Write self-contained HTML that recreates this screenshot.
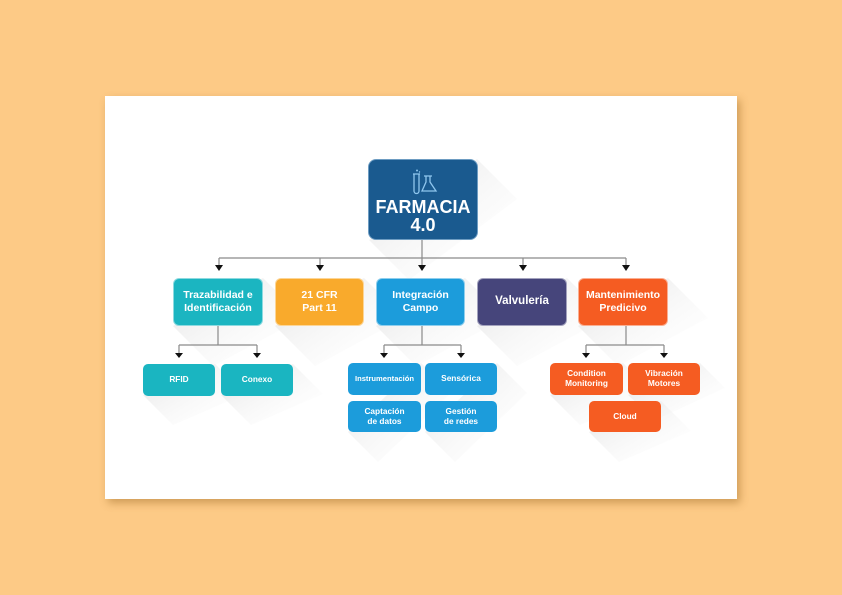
<!DOCTYPE html>
<html><head><meta charset="utf-8"><style>
html,body{margin:0;padding:0}
body{width:842px;height:595px;background:#fdca86;position:relative;overflow:hidden;font-family:"Liberation Sans",sans-serif}
.card{position:absolute;left:105px;top:96px;width:632px;height:403px;background:#fff;box-shadow:3px 4px 8px rgba(150,100,30,.45)}
.b{position:absolute;color:#fff;font-weight:bold;display:flex;align-items:center;justify-content:center;text-align:center;border-radius:6px;box-sizing:border-box;line-height:1.2}
.l2{top:278px;height:48px;width:90px;font-size:10.5px;border:1px solid rgba(255,255,255,.5)}
.l3{height:32px;width:73px;font-size:8.3px;border-radius:5px}
svg{position:absolute;left:0;top:0}
</style></head><body>
<div class="card"></div>
<svg width="842" height="595">
<defs><linearGradient id="g" x1="0" y1="0" x2="1" y2="1"><stop offset="0" stop-color="#e2e2e2"/><stop offset="1" stop-color="#fff" stop-opacity="0"/></linearGradient></defs>
<g fill="url(#g)">
<polygon points="369,240 477,159 517,199 409,280"/>
<polygon points="173,326 263,278 303,318 213,366"/>
<polygon points="275,326 364,278 404,318 315,366"/>
<polygon points="376,326 465,278 505,318 416,366"/>
<polygon points="477,326 567,278 607,318 517,366"/>
<polygon points="578,326 668,278 708,318 618,366"/>
<polygon points="143,395 215,364 245,394 173,425"/>
<polygon points="221,395 293,364 323,394 251,425"/>
<polygon points="348,432 421,363 451,393 378,462"/>
<polygon points="425,432 497,363 527,393 455,462"/>
<polygon points="550,395 623,363 653,393 580,425"/>
<polygon points="628,395 700,363 725,388 655,420"/>
<polygon points="589,432 661,401 691,431 619,462"/>
</g>
<g stroke="#8a8a8a" stroke-width="1.2" fill="none">
<path d="M422,240V258M219,258H626M219,258V266M320,258V266M422,258V266M523,258V266M626,258V266"/>
<path d="M218,326V345M179,345H257M179,345V353M257,345V353"/>
<path d="M422,326V345M384,345H461M384,345V353M461,345V353"/>
<path d="M626,326V345M586,345H664M586,345V353M664,345V353"/>
</g>
<g fill="#111">
<polygon points="215,265 223,265 219,271"/><polygon points="316,265 324,265 320,271"/><polygon points="418,265 426,265 422,271"/><polygon points="519,265 527,265 523,271"/><polygon points="622,265 630,265 626,271"/>
<polygon points="175,353 183,353 179,358"/><polygon points="253,353 261,353 257,358"/>
<polygon points="380,353 388,353 384,358"/><polygon points="457,353 465,353 461,358"/>
<polygon points="582,353 590,353 586,358"/><polygon points="660,353 668,353 664,358"/>
</g>
</svg>
<div class="b" style="left:368px;top:159px;width:110px;height:81px;background:#1a5a8f;border:1px solid #6d9cc2;border-radius:8px;flex-direction:column;font-size:18px;line-height:1.0;padding-top:4px">
<svg width="30" height="26" viewBox="0 0 30 26" style="position:static;margin-bottom:3px"><g stroke="#8fc6ee" stroke-width="1.3" fill="none"><path d="M6,5V22a2.5,2.5 0 0 0 5,0V5M5,5H12M16,7H24M18,7V13L14,22H28L22,13V7"/></g><circle cx="9" cy="1.5" r="1" fill="#8fc6ee"/><circle cx="11.5" cy="3" r=".7" fill="#8fc6ee"/></svg>
<div>FARMACIA<br>4.0</div></div>
<div class="b l2" style="left:173px;width:90px;background:#1bb5c1">Trazabilidad e<br>Identificación</div>
<div class="b l2" style="left:275px;width:89px;background:#f9aa2c">21 CFR<br>Part 11</div>
<div class="b l2" style="left:376px;width:89px;background:#1c9cdb">Integración<br>Campo</div>
<div class="b l2" style="left:477px;width:90px;background:#46457b;font-size:11.5px">Valvulería</div>
<div class="b l2" style="left:578px;width:90px;background:#f55c22">Mantenimiento<br>Predicivo</div>
<div class="b l3" style="left:143px;top:364px;width:72px;background:#1ab5c1">RFID</div>
<div class="b l3" style="left:221px;top:364px;width:72px;background:#1ab5c1">Conexo</div>
<div class="b l3" style="left:348px;top:363px;background:#1c9cdb;font-size:7.6px">Instrumentación</div>
<div class="b l3" style="left:425px;top:363px;width:72px;background:#1c9cdb">Sensórica</div>
<div class="b l3" style="left:348px;top:401px;height:31px;background:#1c9cdb">Captación<br>de datos</div>
<div class="b l3" style="left:425px;top:401px;width:72px;height:31px;background:#1c9cdb">Gestión<br>de redes</div>
<div class="b l3" style="left:550px;top:363px;background:#f55c22">Condition<br>Monitoring</div>
<div class="b l3" style="left:628px;top:363px;width:72px;background:#f55c22">Vibración<br>Motores</div>
<div class="b l3" style="left:589px;top:401px;width:72px;height:31px;background:#f55c22">Cloud</div>
</body></html>
